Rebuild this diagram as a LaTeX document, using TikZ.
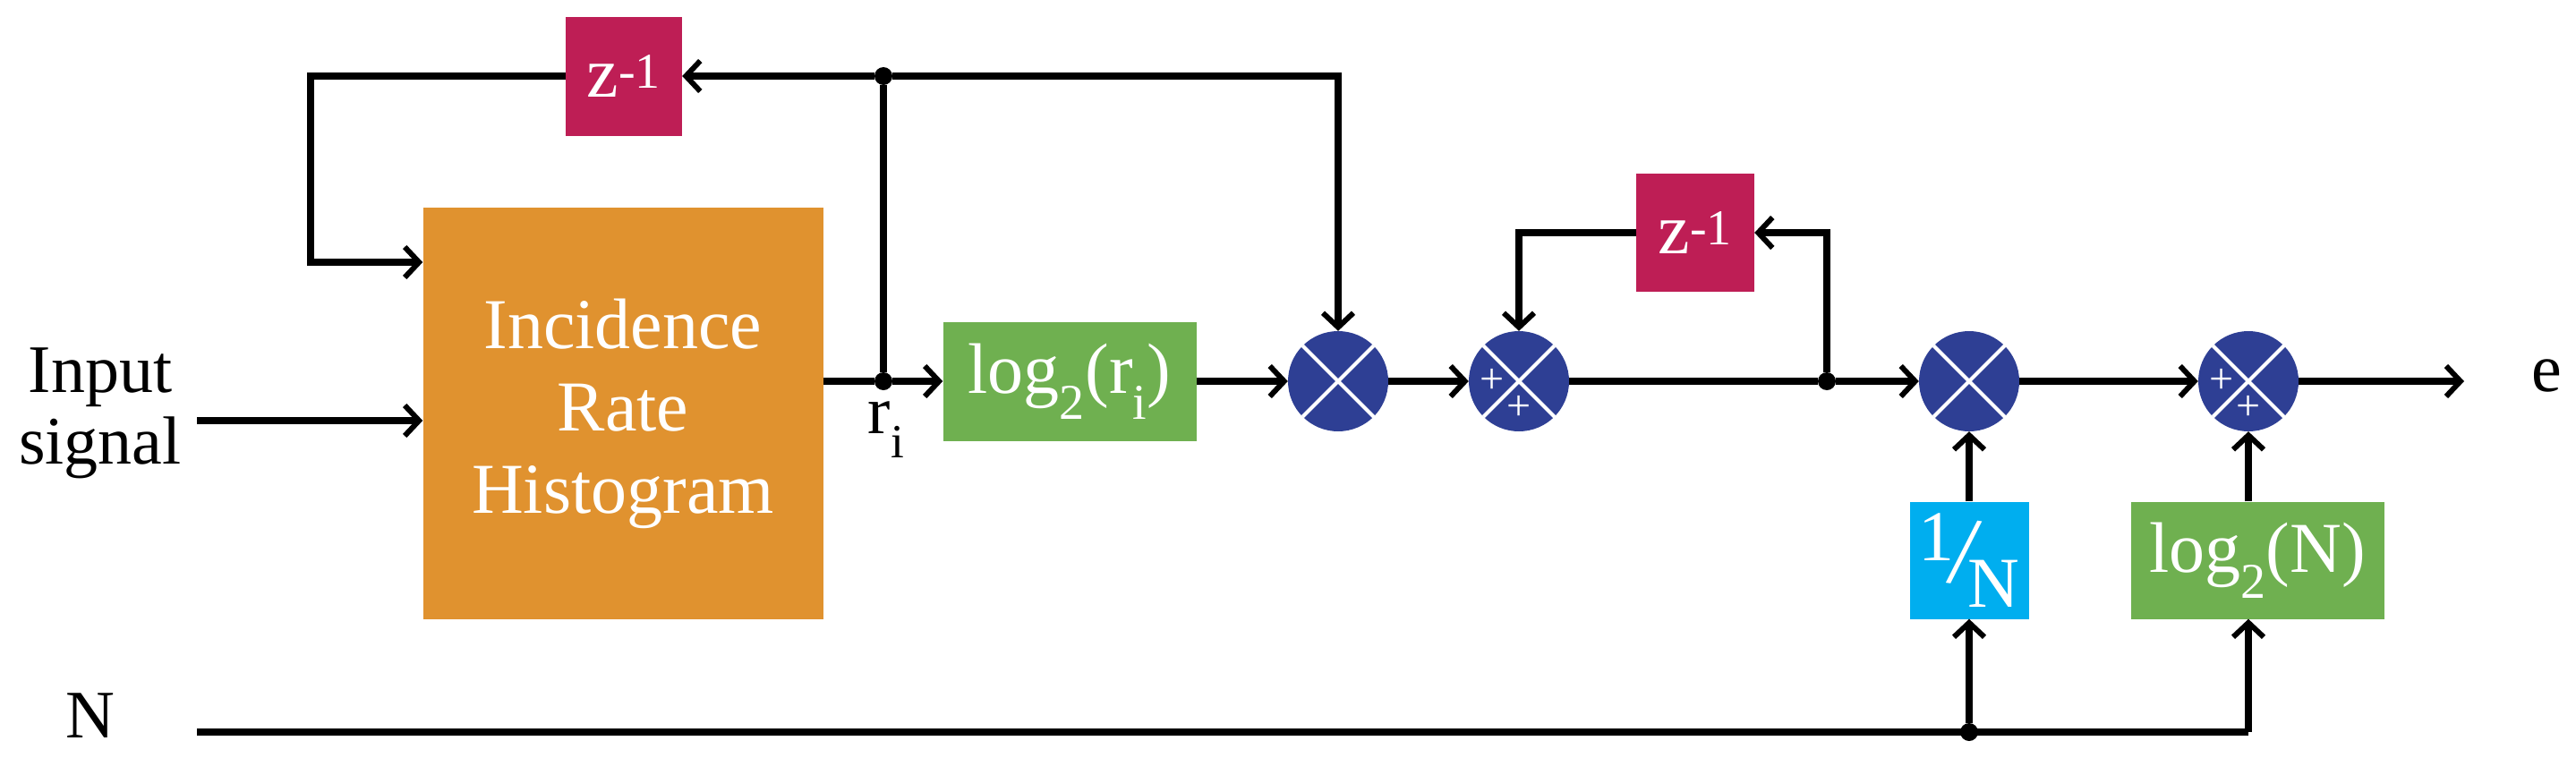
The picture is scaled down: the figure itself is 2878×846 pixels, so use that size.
\documentclass[tikz,border=0pt]{standalone}
\usepackage{fontspec}
\setmainfont{Liberation Serif}
\usetikzlibrary{arrows.meta}
\definecolor{orng}{HTML}{E0922F}
\definecolor{mag}{HTML}{BE1E55}
\definecolor{grn}{HTML}{6FB050}
\definecolor{nav}{HTML}{2E3F94}
\definecolor{cyn}{HTML}{00AEEF}
\begin{document}
\begin{tikzpicture}[x=1pt,y=-1pt,
  wire/.style={line width=8pt,line join=miter},
  arr/.style={wire,-{Straight Barb[length=16pt,width=34pt,line width=6pt]}},
  box/.style={rectangle,inner sep=0pt,text=white,font=\fontsize{80}{92}\selectfont},
  op/.style={circle,fill=nav,minimum size=112pt,inner sep=0pt},
  dot/.style={circle,fill=black,minimum size=20pt,inner sep=0pt},
  lbl/.style={font=\fontsize{76}{80}\selectfont,text=black},
  xw/.style={white,line width=4pt}]
\useasboundingbox (0,0) rectangle (2878,846);
\node[box,fill=orng,minimum width=447pt,minimum height=460pt,align=center] (hist) at (696,462) {Incidence\\Rate\\Histogram};
\node[box,fill=mag,minimum width=130pt,minimum height=133pt] (z1) at (697,85) {z\textsuperscript{-1}};
\node[box,fill=grn,minimum width=283pt,minimum height=133pt] (logr) at (1195,426) {log\textsubscript{2}(r\textsubscript{i})};
\node[op] (m1) at (1495,426) {};
\node[op] (s1) at (1697,426) {};
\node[op] (m2) at (2200,426) {};
\node[op] (s2) at (2512,426) {};
\node[box,fill=mag,minimum width=132pt,minimum height=132pt] (z2) at (1894,260) {z\textsuperscript{-1}};
\node[box,fill=cyn,minimum width=133pt,minimum height=131pt] (inv) at (2200,626) {\raisebox{0.3em}{1}\kern-0.12em\rotatebox{-8}{\fontsize{110}{110}\selectfont/}\kern-0.2em\raisebox{-0.35em}{N}};
\node[box,fill=grn,minimum width=283pt,minimum height=131pt] (logN) at (2522,626) {log\textsubscript{2}(N)};
\foreach \n in {m1,s1,m2,s2}{\draw[xw] (\n.45)--(\n.225) (\n.135)--(\n.315);}
\node[lbl,align=center] (inp) at (112,462) {Input\\signal};
\node[lbl] (nl) at (101,800) {N};
\node[lbl] (el) at (2845,420) {e};
\node[lbl] (ri) at (990,480) {r\textsubscript{i}};
\coordinate (in) at (220,470);
\coordinate (nin) at (220,818);
\coordinate (out) at (2753,426);
\node[dot] (j1) at (987,426) {};
\node[dot] (jt) at (987,85) {};
\node[dot] (j2) at (2041,426) {};
\node[dot] (jN) at (2200,818) {};
\coordinate (nE) at (2512,818);
\coordinate (lp) at (347,293);
\draw[arr] (in) -- (in -| hist.west);
\draw[wire] (hist.east |- logr) -- (j1);
\draw[arr] (j1) -- (logr.west);
\draw[wire] (j1) -- (jt);
\draw[arr] (jt) -- (z1.east);
\draw[arr] (jt) -| (m1.north);
\draw[arr] (z1.west) -| (lp) -- (lp -| hist.west);
\draw[arr] (logr.east) -- (m1.west);
\draw[arr] (m1.east) -- (s1.west);
\draw[wire] (s1.east) -- (j2);
\draw[arr] (j2) -- (m2.west);
\draw[arr] (j2) |- (z2.east);
\draw[arr] (z2.west) -| (s1.north);
\draw[arr] (m2.east) -- (s2.west);
\draw[arr] (s2.east) -- (out);
\draw[wire] (nin) -- (nE);
\draw[arr] (jN) -- (inv.south);
\draw[arr] (nE) -- (nE |- logN.south);
\draw[arr] (inv.north) -- (m2.south);
\draw[arr] (s2.south |- logN.north) -- (s2.south);
\foreach \n in {s1,s2}{
  \node[text=white,font=\fontsize{48}{48}\selectfont,inner sep=0pt] at ([yshift=-30pt]\n.center) {+};
  \node[text=white,font=\fontsize{48}{48}\selectfont,inner sep=0pt] at ([xshift=-30pt]\n.center) {+};
}
\end{tikzpicture}
\end{document}
